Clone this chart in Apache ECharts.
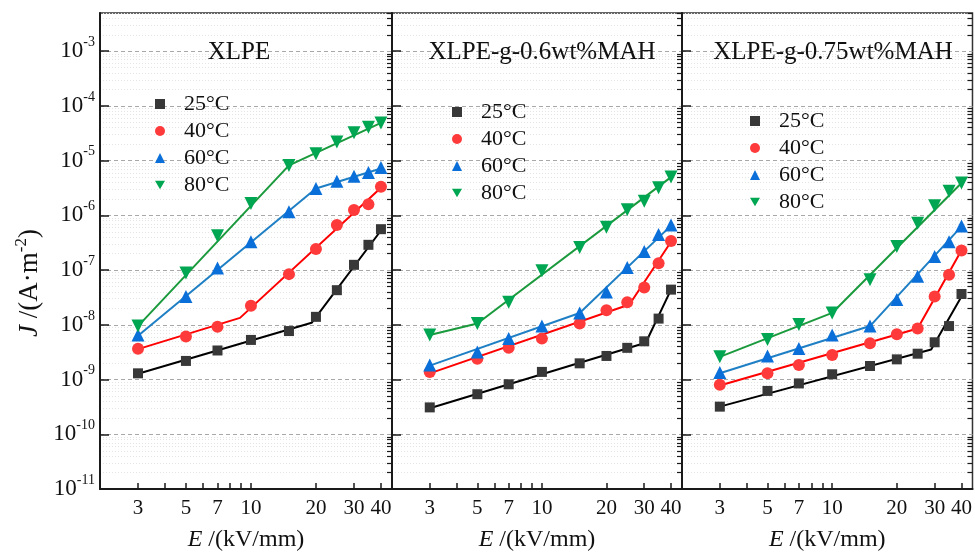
<!DOCTYPE html>
<html><head><meta charset="utf-8">
<script src="https://cdn.jsdelivr.net/npm/echarts@6/dist/echarts.min.js"></script>
<style>html,body{margin:0;padding:0;background:#fff}#c{width:975px;height:557px}</style>
</head><body><div id="c"></div>
<script>
// ---------- data ----------
const xValues = [3, 5, 7, 10, 15, 20, 25, 30, 35, 40];
const panelTitles = ['XLPE', 'XLPE-g-0.6wt%MAH', 'XLPE-g-0.75wt%MAH'];
const tempNames = ['25°C', '40°C', '60°C', '80°C'];

// measured current density J (A/m^2)
const xlpe25 = [1.30e-9, 2.19e-9, 3.4e-9, 5.3e-9, 7.7e-9, 1.4e-8, 4.3e-8, 1.25e-7, 2.9e-7, 5.6e-7];
const xlpe40 = [3.66e-9, 6.1e-9, 9.2e-9, 2.24e-8, 8.45e-8, 2.44e-7, 6.7e-7, 1.25e-6, 1.6e-6, 3.33e-6];
const xlpe60 = [6.5e-9, 3.3e-8, 1.09e-7, 3.3e-7, 1.17e-6, 3.1e-6, 4.2e-6, 5.2e-6, 6.1e-6, 7.5e-6];
const xlpe80 = [9.5e-9, 8.9e-8, 4.27e-7, 1.65e-6, 8.2e-6, 1.34e-5, 2.19e-5, 3.23e-5, 4.1e-5, 4.9e-5];

const mah06_25 = [3.1e-10, 5.4e-10, 8.2e-10, 1.38e-9, 1.98e-9, 2.7e-9, 3.8e-9, 5.0e-9, 1.3e-8, 4.4e-8];
const mah06_40 = [1.38e-9, 2.41e-9, 3.8e-9, 5.6e-9, 1.06e-8, 1.85e-8, 2.6e-8, 4.8e-8, 1.34e-7, 3.4e-7];
const mah06_60 = [1.85e-9, 3.2e-9, 5.6e-9, 9.5e-9, 1.65e-8, 4.0e-8, 1.12e-7, 2.19e-7, 4.5e-7, 6.7e-7];
const mah06_80 = [6.5e-9, 1.06e-8, 2.6e-8, 9.7e-8, 2.6e-7, 6.05e-7, 1.27e-6, 1.82e-6, 3.2e-6, 5.05e-6];

const mah075_25 = [3.2e-10, 6.2e-10, 8.5e-10, 1.25e-9, 1.77e-9, 2.34e-9, 2.97e-9, 4.8e-9, 9.5e-9, 3.66e-8];
const mah075_40 = [8.0e-10, 1.3e-9, 1.85e-9, 2.8e-9, 4.6e-9, 6.7e-9, 8.6e-9, 3.3e-8, 8.2e-8, 2.28e-7];
const mah075_60 = [1.34e-9, 2.7e-9, 3.7e-9, 6.5e-9, 9.5e-9, 2.9e-8, 7.7e-8, 1.77e-7, 3.3e-7, 6.4e-7];
const mah075_80 = [2.6e-9, 5.4e-9, 1.01e-8, 1.65e-8, 6.7e-8, 2.7e-7, 7.2e-7, 1.5e-6, 2.77e-6, 3.9e-6];

// fitted line vertices [E, J]
const xlpe25Fit = [[3, 1.28e-9], [19.1, 1.09e-8], [40, 5.3e-7]];
const xlpe40Fit = [[3, 3.6e-9], [8.9, 1.34e-8], [40, 3.2e-6]];
const xlpe60Fit = [[3, 6.3e-9], [20, 3.1e-6], [40, 7.2e-6]];
const xlpe80Fit = [[3, 9.5e-9], [15, 8.2e-6], [40, 4.9e-5]];
const mah06_25Fit = [[3, 3.0e-10], [30.5, 4.7e-9], [40, 4.4e-8]];
const mah06_40Fit = [[3, 1.3e-9], [25.6, 2.35e-8], [40, 3.3e-7]];
const mah06_60Fit = [[3, 1.8e-9], [15, 1.65e-8], [40, 6.5e-7]];
const mah06_80Fit = [[3, 6.5e-9], [5, 1.06e-8], [40, 5.0e-6]];
const mah075_25Fit = [[3, 3.2e-10], [28.9, 3.55e-9], [40, 3.3e-8]];
const mah075_40Fit = [[3, 7.8e-10], [25, 8.6e-9], [40, 2.3e-7]];
const mah075_60Fit = [[3, 1.3e-9], [15, 9.5e-9], [40, 6.3e-7]];
const mah075_80Fit = [[3, 2.6e-9], [10, 1.65e-8], [40, 3.9e-6]];

// axis ticks
const xTickValues = [3, 4, 5, 6, 7, 8, 9, 10, 20, 30, 40];
const xLabelValues = [3, 5, 7, 10, 20, 30, 40];
const yMajorTicks = [1e-11, 1e-10, 1e-9, 1e-8, 1e-7, 1e-6, 1e-5, 1e-4, 1e-3];
const yMinorMultipliers = [2, 3, 4, 5, 6, 7, 8, 9];

// ---------- styling ----------
const FONT = 'Liberation Serif';
const markerColors = ['#383838', '#ff3a3a', '#0a6fd8', '#00a651'];
const lineColors = ['#000000', '#ff0000', '#1f7fc4', '#1a9a3c'];
const symbols = ['rect', 'circle', 'triangle', 'path://M0,0 L2,0 L1,1.73 Z'];
const symbolSizes = [10, 12, 13, 13];

const panels = [
  { pts: [xlpe25, xlpe40, xlpe60, xlpe80], fits: [xlpe25Fit, xlpe40Fit, xlpe60Fit, xlpe80Fit] },
  { pts: [mah06_25, mah06_40, mah06_60, mah06_80], fits: [mah06_25Fit, mah06_40Fit, mah06_60Fit, mah06_80Fit] },
  { pts: [mah075_25, mah075_40, mah075_60, mah075_80], fits: [mah075_25Fit, mah075_40Fit, mah075_60Fit, mah075_80Fit] }
];

const yMinorTicks = [];
yMajorTicks.forEach(d => yMinorMultipliers.forEach(m => yMinorTicks.push(+(m * d).toPrecision(3))));

const gridLefts = [100, 392, 682];
const gridWidths = [292, 290, 291];
const titleX = [239, 542, 833];
const legendPos = [[150, 88], [447, 96], [745, 105]];

const grids = [], xAxes = [], yAxes = [], series = [], legends = [], graphics = [];

panels.forEach((p, i) => {
  grids.push({ left: gridLefts[i], width: gridWidths[i], top: 13, height: 479, show: true,
    borderColor: '#333', borderWidth: 1.5, backgroundColor: 'transparent' });

  xAxes.push({
    type: 'log', logBase: 10, gridIndex: i, min: 2, max: 45,
    axisLine: { show: true, lineStyle: { color: '#1a1a1a', width: 2 } },
    axisTick: { show: true, inside: true, length: 6, customValues: xTickValues, lineStyle: { color: '#1a1a1a', width: 1.5 } },
    axisLabel: { show: true, customValues: xLabelValues, formatter: v => String(Math.round(v)),
      fontFamily: FONT, fontSize: 21, color: '#111', margin: 9 },
    splitLine: { show: false },
    name: '{i|E} /(kV/mm)', nameLocation: 'middle', nameGap: 39,
    nameTextStyle: { fontFamily: FONT, fontSize: 24, color: '#111',
      rich: { i: { fontFamily: FONT, fontSize: 24, fontStyle: 'italic', color: '#111' } } }
  });

  // major y axis
  yAxes.push({
    type: 'log', logBase: 10, gridIndex: i, min: 1e-11, max: 5e-3,
    axisLine: { show: true, lineStyle: { color: '#1a1a1a', width: 2 } },
    axisTick: { show: true, inside: true, length: 9, customValues: yMajorTicks, lineStyle: { color: '#1a1a1a', width: 1.5 } },
    axisLabel: { show: i === 0, customValues: yMajorTicks, margin: 5,
      formatter: v => '{b|10}{s|' + Math.round(Math.log10(v)) + '}',
      rich: {
        b: { fontFamily: FONT, fontSize: 23, color: '#111', lineHeight: 32 },
        s: { fontFamily: FONT, fontSize: 14, color: '#111', lineHeight: 14, verticalAlign: 'top' }
      } },
    splitLine: { show: true, lineStyle: { color: '#a8a8a8', type: [4, 3], width: 1 } }
  });
  // minor y axis (ticks + faint grid)
  yAxes.push({
    type: 'log', logBase: 10, gridIndex: i, min: 1e-11, max: 5e-3,
    axisLine: { show: false },
    axisTick: { show: true, inside: true, length: 5, customValues: yMinorTicks, lineStyle: { color: '#1a1a1a', width: 1.2 } },
    axisLabel: { show: false },
    splitLine: { show: true, lineStyle: { color: '#e4e4e4', type: [1, 2], width: 1 } }
  });

  p.fits.forEach((f, k) => {
    series.push({ type: 'line', name: tempNames[k] + ' fit', xAxisIndex: i, yAxisIndex: 2 * i,
      data: f, showSymbol: false, symbol: 'none', silent: true, z: 3,
      lineStyle: { color: lineColors[k], width: 2 } });
  });
  p.pts.forEach((arr, k) => {
    series.push({ type: 'scatter', name: tempNames[k], xAxisIndex: i, yAxisIndex: 2 * i,
      data: xValues.map((x, j) => [x, arr[j]]), symbol: symbols[k], symbolSize: symbolSizes[k], z: 4,
      itemStyle: { color: markerColors[k], opacity: 1 } });
  });

  legends.push({
    data: tempNames.map(n => ({ name: n })), orient: 'vertical', left: legendPos[i][0], top: legendPos[i][1],
    itemWidth: 10, itemHeight: 10, itemGap: 5, selectedMode: false,
    textStyle: { fontFamily: FONT, fontSize: 22, color: '#111', lineHeight: 22, padding: [0, 0, 0, 14] }
  });

  graphics.push({ type: 'text', x: titleX[i], y: 52, style: { text: panelTitles[i], fontFamily: FONT, fontSize: 25,
    fill: '#111', align: 'center', verticalAlign: 'middle' }, z: 10 });
});

graphics.push({ type: 'text', x: 30, y: 283, rotation: Math.PI / 2,
  style: { text: '{i|J} /(A·m{s|-2})', fontFamily: FONT, fontSize: 27, fill: '#111', align: 'center', verticalAlign: 'middle',
    rich: { i: { fontFamily: FONT, fontSize: 27, fontStyle: 'italic', fill: '#111', lineHeight: 34 },
            s: { fontFamily: FONT, fontSize: 17, fill: '#111', lineHeight: 16, verticalAlign: 'top' } } } });

const chart = echarts.init(document.getElementById('c'), null, { renderer: 'canvas' });
chart.setOption({
  backgroundColor: '#fff', animation: false,
  textStyle: { fontFamily: FONT },
  grid: grids, xAxis: xAxes, yAxis: yAxes, series: series, legend: legends, graphic: graphics
});
</script></body></html>
